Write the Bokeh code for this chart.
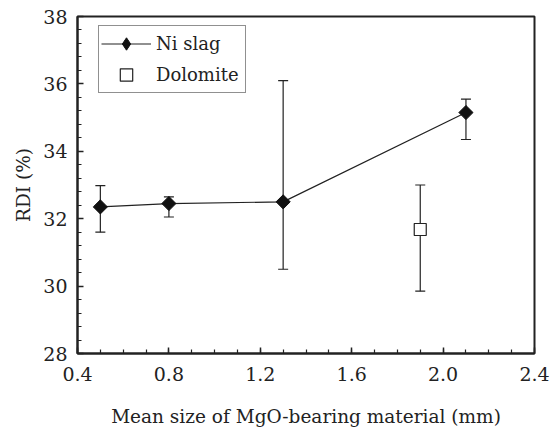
import numpy as np
from bokeh.plotting import figure
from bokeh.models import (ColumnDataSource, Whisker, TeeHead, Legend, LegendItem,
                          FixedTicker, PrintfTickFormatter)
from bokeh.embed import file_html
from bokeh.resources import INLINE

# data
ni_x = [0.5, 0.8, 1.3, 2.1]
ni_y = [32.35, 32.45, 32.5, 35.15]
ni_lo = [31.6, 32.05, 30.5, 34.35]
ni_hi = [32.98, 32.65, 36.1, 35.55]

dol_x = [1.9]
dol_y = [31.68]
dol_lo = [29.85]
dol_hi = [33.0]

x_ticks = [0.4, 0.8, 1.2, 1.6, 2.0, 2.4]
x_minor = [round(0.4 + 0.1 * i, 2) for i in range(21)]
y_ticks = [28, 30, 32, 34, 36, 38]
y_minor = [round(28 + 0.4 * i, 2) for i in range(26)]

FONT = "DejaVu Serif"
TXT = "#222222"

p = figure(width=556, height=430, output_backend="svg", toolbar_location=None,
           x_range=(0.4, 2.4), y_range=(28, 38),
           min_border_left=77, min_border_right=22, min_border_top=16, min_border_bottom=77)
p.background_fill_color = "white"
p.border_fill_color = "white"
p.outline_line_color = "#222222"
p.outline_line_width = 2
p.xgrid.visible = False
p.ygrid.visible = False

ni_src = ColumnDataSource(dict(x=ni_x, y=ni_y, lo=ni_lo, hi=ni_hi))
dol_src = ColumnDataSource(dict(x=dol_x, y=dol_y, lo=dol_lo, hi=dol_hi))

for src in (ni_src, dol_src):
    w = Whisker(source=src, base="x", lower="lo", upper="hi", line_color="#222222", line_width=1.2,
                upper_head=TeeHead(size=10, line_color="#222222", line_width=1.2),
                lower_head=TeeHead(size=10, line_color="#222222", line_width=1.2))
    p.add_layout(w)

ln = p.line("x", "y", source=ni_src, line_color="#222222", line_width=1.2)
dm = p.scatter("x", "y", source=ni_src, marker="square", angle=np.pi / 4, size=10,
               fill_color="#111111", line_color="#111111")
sq = p.scatter("x", "y", source=dol_src, marker="square", size=12,
               fill_color="white", line_color="#222222", line_width=1.2)
# legend-only glyphs (no data drawn in the plot)
leg_dm = p.scatter(x=[np.nan], y=[np.nan], marker="diamond",
                   fill_color="#111111", line_color="#111111")
leg_sq = p.scatter(x=[np.nan], y=[np.nan], marker="square",
                   fill_color="white", line_color="#222222", line_width=1.2)

legend = Legend(items=[LegendItem(label="Ni slag", renderers=[ln, leg_dm]),
                       LegendItem(label="Dolomite", renderers=[leg_sq])],
                location=(21, 260))
legend.border_line_color = "#222222"
legend.border_line_width = 1.2
legend.label_text_font = FONT
legend.label_text_font_size = "18px"
legend.label_text_color = TXT
legend.glyph_width = 50
legend.glyph_height = 31
legend.spacing = 0
legend.padding = 2
legend.margin = 0
legend.label_standoff = 5
legend.label_width = 87
legend.background_fill_alpha = 1.0
p.add_layout(legend)

p.xaxis.ticker = FixedTicker(ticks=x_ticks, minor_ticks=x_minor)
p.yaxis.ticker = FixedTicker(ticks=y_ticks, minor_ticks=y_minor)
p.xaxis.formatter = PrintfTickFormatter(format="%.1f")
p.yaxis.formatter = PrintfTickFormatter(format="%d")

for ax in (p.xaxis[0], p.yaxis[0]):
    ax.axis_line_color = "#222222"
    ax.axis_line_width = 2
    ax.major_tick_in = 6
    ax.major_tick_out = 0
    ax.minor_tick_in = 4
    ax.minor_tick_out = 0
    ax.major_tick_line_color = "#222222"
    ax.minor_tick_line_color = "#222222"
    ax.major_tick_line_width = 1.5
    ax.minor_tick_line_width = 1.2
    ax.major_label_text_font = FONT
    ax.major_label_text_font_size = "19px"
    ax.major_label_text_color = TXT
    ax.axis_label_text_font = FONT
    ax.axis_label_text_font_size = "18.5px"
    ax.axis_label_text_font_style = "normal"
    ax.axis_label_text_color = TXT

p.xaxis.axis_label = "Mean size of MgO-bearing material (mm)"
p.yaxis.axis_label = "RDI (%)"
p.xaxis.major_label_standoff = 13
p.xaxis.axis_label_standoff = 22
p.yaxis.major_label_standoff = 10
p.yaxis.axis_label_standoff = 6

open("out.html", "w").write(file_html(p, INLINE))
